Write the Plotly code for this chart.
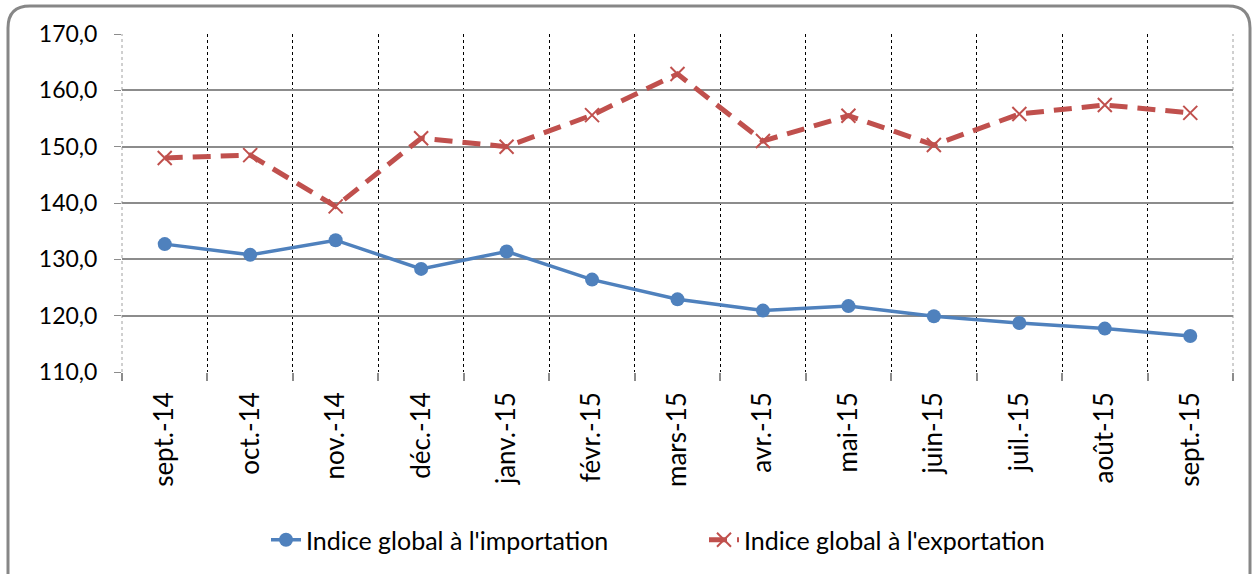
import plotly.graph_objects as go

categories = ["sept.-14", "oct.-14", "nov.-14", "déc.-14", "janv.-15", "févr.-15", "mars-15",
              "avr.-15", "mai-15", "juin-15", "juil.-15", "août-15", "sept.-15"]
import_values = [132.7, 130.8, 133.4, 128.3, 131.4, 126.4, 122.9, 120.9, 121.7, 119.9, 118.7, 117.7, 116.4]
export_values = [148.0, 148.5, 139.4, 151.5, 150.0, 155.6, 162.9, 151.0, 155.5, 150.3, 155.8, 157.4, 156.0]
y_ticks = [110, 120, 130, 140, 150, 160, 170]

W, H = 1256, 574
L, R, T, B = 122, 1233, 34, 373
FONT = "Lato"

xs = list(range(len(categories)))

fig = go.Figure()
fig.add_trace(go.Scatter(
    x=xs, y=import_values, name="Indice global à l'importation",
    mode="lines+markers",
    line=dict(color="#4F81BD", width=3.5),
    marker=dict(symbol="circle", size=14, color="#4F81BD"),
))
fig.add_trace(go.Scatter(
    x=xs, y=export_values, name="Indice global à l'exportation",
    mode="lines+markers",
    line=dict(color="#C0504D", width=5, dash="18px,10px"),
    marker=dict(symbol="x-thin", size=14, color="#C0504D", line=dict(color="#C0504D", width=2)),
))

def px_x(x):
    return (x - L) / (R - L)

def px_y(y):
    return 1 - (y - T) / (B - T)

# rounded frame around the chart
x0, y0, x1, y1, r = 8, 6, 1250, 600, 22
path = (f"M {px_x(x0+r)},{px_y(y0)} L {px_x(x1-r)},{px_y(y0)} "
        f"Q {px_x(x1)},{px_y(y0)} {px_x(x1)},{px_y(y0+r)} "
        f"L {px_x(x1)},{px_y(y1)} L {px_x(x0)},{px_y(y1)} "
        f"L {px_x(x0)},{px_y(y0+r)} Q {px_x(x0)},{px_y(y0)} {px_x(x0+r)},{px_y(y0)} Z")
fig.add_shape(type="path", path=path, xref="paper", yref="paper",
              line=dict(color="#878787", width=3), layer="below")

# plot-area side borders (light dashed)
for xe in (0, 1):
    fig.add_shape(type="line", xref="paper", yref="paper", x0=xe, x1=xe, y0=0, y1=1,
                  line=dict(color="#A0A0A0", width=1, dash="dot"), layer="below")

fig.update_layout(
    width=W, height=H,
    margin=dict(l=L, r=W - R, t=T, b=H - B),
    paper_bgcolor="white", plot_bgcolor="white",
    separators=", ",
    font=dict(family=FONT, size=24, color="black"),
    showlegend=True,
    legend=dict(orientation="h", x=px_x(266), xanchor="left", y=px_y(540), yanchor="middle",
                font=dict(family=FONT, size=25), entrywidth=393, entrywidthmode="pixels",
                tracegroupgap=0, bgcolor="rgba(0,0,0,0)"),
    xaxis=dict(
        range=[-0.5, len(categories) - 0.5],
        tickvals=xs, ticktext=categories, tickangle=-90,
        showgrid=False, zeroline=False, showline=False,
        ticks="", tickfont=dict(family=FONT, size=26), ticklabelstandoff=14,
        minor=dict(tickvals=[i - 0.5 for i in range(len(categories) + 1)],
                   showgrid=True, gridcolor="black", gridwidth=1, griddash="dot",
                   ticks="outside", ticklen=8, tickcolor="#8C8C8C", tickwidth=2),
        fixedrange=True,
    ),
    yaxis=dict(
        range=[110, 170], tickvals=y_ticks, tickformat=".1f",
        showgrid=True, gridcolor="#8C8C8C", gridwidth=2,
        zeroline=False, showline=False,
        ticks="outside", ticklen=7, tickcolor="#8C8C8C", ticklabelstandoff=12,
        tickfont=dict(family=FONT, size=23), fixedrange=True,
    ),
)

fig.write_html("out.html", config={"displayModeBar": False},
               post_script="document.body.style.margin='0';document.body.style.overflow='hidden';")
